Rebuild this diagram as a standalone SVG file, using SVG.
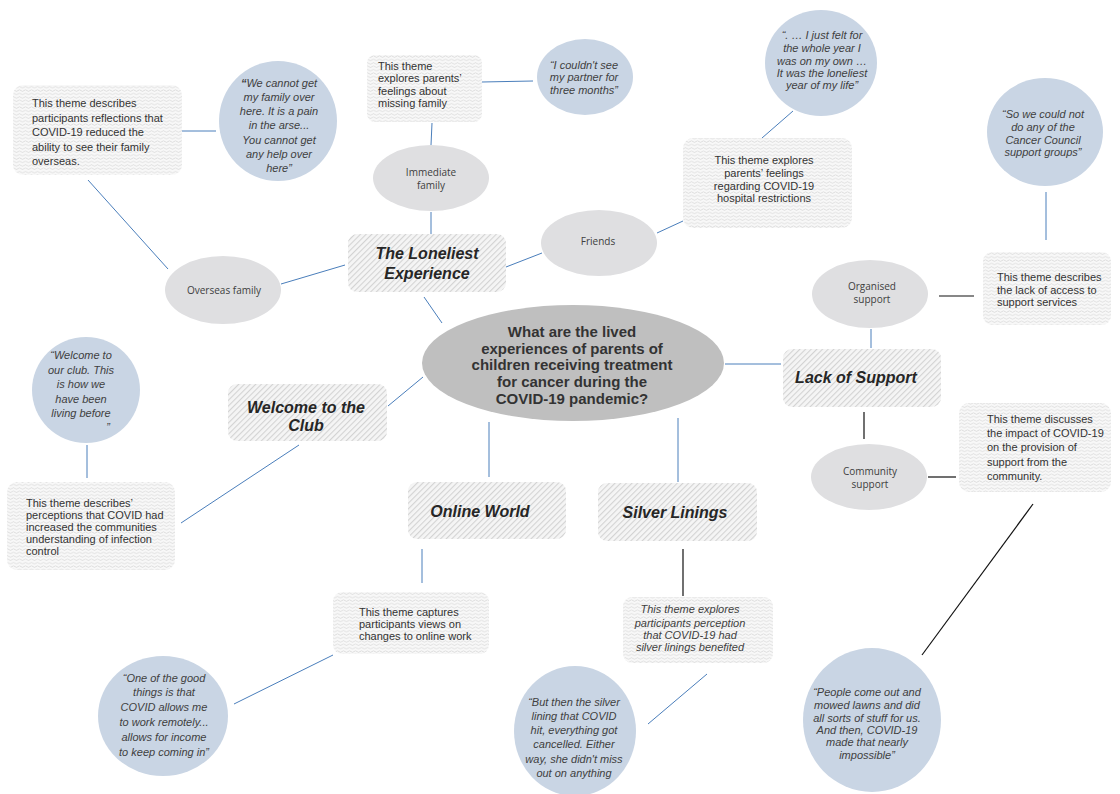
<svg xmlns="http://www.w3.org/2000/svg" width="1120" height="794" viewBox="0 0 1120 794">
<defs>
<pattern id="wavy" width="6" height="3.4" patternUnits="userSpaceOnUse">
<rect width="6" height="3.4" fill="#f8f8f8"/>
<path d="M0 2.2 Q1.5 0.8 3 2.2 T6 2.2" fill="none" stroke="#cdcdcd" stroke-width="0.6"/>
</pattern>
<pattern id="hatch" width="4" height="10" patternUnits="userSpaceOnUse" patternTransform="rotate(45)">
<rect width="4" height="10" fill="#f5f5f5"/>
<line x1="0.6" y1="0" x2="0.6" y2="10" stroke="#d0d0d0" stroke-width="1"/>
</pattern>
<style>
.theme{fill:url(#wavy)}
.title{fill:url(#hatch)}
.quote{fill:#c9d5e4}
.sub{fill:#dfdfe1}
.central{fill:#bfbfbf}
.tt{font-family:"Liberation Sans",Arial,sans-serif;font-size:11px;fill:#333}
.tq{font-family:"Liberation Sans",Arial,sans-serif;font-size:11px;font-style:italic;fill:#404040;text-anchor:middle}
.ts{font-family:"Open Sans","Liberation Sans",sans-serif;font-size:10px;fill:#404040;text-anchor:middle}
.th{font-family:"Liberation Sans",Arial,sans-serif;font-size:16px;font-weight:bold;font-style:italic;fill:#262626;text-anchor:middle}
.tc{font-family:"Liberation Sans",Arial,sans-serif;font-size:15px;font-weight:bold;fill:#333;text-anchor:middle}
.cb{stroke:#4a7ebb;stroke-width:1;fill:none}
.ck{stroke:#111;stroke-width:1.2;fill:none}
</style>
</defs>
<rect width="1120" height="794" fill="#fff"/>

<g id="connectors">
<line class="cb" x1="424" y1="297" x2="442" y2="323"/>
<line class="cb" x1="431" y1="212" x2="431" y2="234"/>
<line class="cb" x1="432" y1="123" x2="431" y2="145"/>
<line class="cb" x1="482" y1="82" x2="533" y2="81"/>
<line class="cb" x1="506" y1="267" x2="542" y2="253"/>
<line class="cb" x1="657" y1="233" x2="683" y2="221"/>
<line class="cb" x1="762" y1="138" x2="793" y2="111"/>
<line class="cb" x1="281" y1="284" x2="345" y2="265"/>
<line class="cb" x1="168" y1="269" x2="88" y2="180"/>
<line class="cb" x1="182" y1="131" x2="216" y2="131"/>
<line class="cb" x1="1046" y1="192" x2="1046" y2="240"/>
<line class="ck" x1="939" y1="296" x2="974" y2="296"/>
<line class="cb" x1="871" y1="329" x2="871" y2="348"/>
<line class="cb" x1="725" y1="364" x2="781" y2="364"/>
<line class="ck" x1="864" y1="412" x2="864" y2="439"/>
<line class="ck" x1="928" y1="477" x2="956" y2="477"/>
<line class="ck" x1="1033" y1="504" x2="922" y2="655"/>
<line class="cb" x1="388" y1="406" x2="423" y2="377"/>
<line class="cb" x1="299" y1="445" x2="181" y2="523"/>
<line class="cb" x1="87" y1="445" x2="87" y2="478"/>
<line class="cb" x1="489" y1="422" x2="489" y2="477"/>
<line class="cb" x1="422" y1="549" x2="422" y2="583"/>
<line class="cb" x1="333" y1="655" x2="234" y2="704"/>
<line class="cb" x1="678" y1="418" x2="678" y2="482"/>
<line class="ck" x1="683" y1="549" x2="683" y2="596"/>
<line class="cb" x1="707" y1="674" x2="648" y2="724"/>
</g>

<g id="central">
<ellipse class="central" cx="573" cy="363" rx="151" ry="58"/>
<text class="tc" x="572" y="337">What are the lived</text>
<text class="tc" x="572" y="354">experiences of parents of</text>
<text class="tc" x="572" y="370">children receiving treatment</text>
<text class="tc" x="572" y="387">for cancer during the</text>
<text class="tc" x="572" y="404">COVID-19 pandemic?</text>
</g>

<g id="loneliest">
<rect class="title" x="348" y="234" width="158" height="58" rx="9"/>
<text class="th" x="427" y="259">The Loneliest</text>
<text class="th" x="427" y="279">Experience</text>
</g>

<g id="immediate-family">
<ellipse class="sub" cx="431" cy="178" rx="58" ry="33"/>
<text class="ts" x="431" y="176">Immediate</text>
<text class="ts" x="431" y="189">family</text>
</g>

<g id="theme-missing-family">
<rect class="theme" x="367" y="55" width="115" height="67" rx="8"/>
<text class="tt" x="378" y="70">This theme</text>
<text class="tt" x="378" y="82">explores parents’</text>
<text class="tt" x="378" y="95">feelings about</text>
<text class="tt" x="378" y="107">missing family</text>
</g>

<g id="quote-partner">
<ellipse class="quote" cx="585" cy="77" rx="48" ry="38"/>
<text class="tq" x="584" y="69">“I couldn't see</text>
<text class="tq" x="584" y="81">my partner for</text>
<text class="tq" x="584" y="94">three months”</text>
</g>

<g id="friends">
<ellipse class="sub" cx="599" cy="243" rx="58" ry="33"/>
<text class="ts" x="598" y="245">Friends</text>
</g>

<g id="theme-hospital">
<rect class="theme" x="683" y="138" width="169" height="90" rx="10"/>
<text class="tt" x="764" y="164" text-anchor="middle">This theme explores</text>
<text class="tt" x="764" y="177" text-anchor="middle">parents’ feelings</text>
<text class="tt" x="764" y="190" text-anchor="middle">regarding COVID-19</text>
<text class="tt" x="764" y="202" text-anchor="middle">hospital restrictions</text>
</g>

<g id="quote-loneliest-year">
<ellipse class="quote" cx="821" cy="63" rx="56" ry="53"/>
<text class="tq" x="822" y="39">“. … I just felt for</text>
<text class="tq" x="822" y="52">the whole year I</text>
<text class="tq" x="822" y="65">was on my own …</text>
<text class="tq" x="822" y="77">It was the loneliest</text>
<text class="tq" x="822" y="89">year of my life”</text>
</g>

<g id="overseas-family">
<ellipse class="sub" cx="223" cy="290" rx="58" ry="34"/>
<text class="ts" x="224" y="294">Overseas family</text>
</g>

<g id="theme-overseas">
<rect class="theme" x="13" y="85" width="169" height="90" rx="10"/>
<text class="tt" x="32" y="107">This theme describes</text>
<text class="tt" x="32" y="122">participants reflections that</text>
<text class="tt" x="32" y="136">COVID-19 reduced the</text>
<text class="tt" x="32" y="151">ability to see their family</text>
<text class="tt" x="32" y="165">overseas.</text>
</g>

<g id="quote-overseas">
<ellipse class="quote" cx="278" cy="121" rx="59" ry="60"/>
<text class="tq" x="279" y="87"><tspan font-weight="bold">“</tspan>We cannot get</text>
<text class="tq" x="279" y="101">my family over</text>
<text class="tq" x="279" y="115">here. It is a pain</text>
<text class="tq" x="279" y="129">in the arse...</text>
<text class="tq" x="279" y="144">You cannot get</text>
<text class="tq" x="279" y="158">any help over</text>
<text class="tq" x="279" y="172">here”</text>
</g>

<g id="lack-of-support">
<rect class="title" x="783" y="349" width="158" height="58" rx="9"/>
<text class="th" x="856" y="383">Lack of Support</text>
</g>

<g id="organised-support">
<ellipse class="sub" cx="870" cy="294" rx="58" ry="34"/>
<text class="ts" x="872" y="290">Organised</text>
<text class="ts" x="872" y="303">support</text>
</g>

<g id="theme-access">
<rect class="theme" x="983" y="252" width="128" height="73" rx="9"/>
<text class="tt" x="997" y="281">This theme describes</text>
<text class="tt" x="997" y="294">the lack of access to</text>
<text class="tt" x="997" y="306">support services</text>
</g>

<g id="quote-cancer-council">
<ellipse class="quote" cx="1045" cy="132" rx="58" ry="54"/>
<text class="tq" x="1043" y="118">“So we could not</text>
<text class="tq" x="1043" y="131">do any of the</text>
<text class="tq" x="1043" y="144">Cancer Council</text>
<text class="tq" x="1043" y="156">support groups”</text>
</g>

<g id="community-support">
<ellipse class="sub" cx="869" cy="477" rx="58" ry="33"/>
<text class="ts" x="870" y="475">Community</text>
<text class="ts" x="870" y="488">support</text>
</g>

<g id="theme-community">
<rect class="theme" x="959" y="403" width="152" height="89" rx="10"/>
<text class="tt" x="987" y="423">This theme discusses</text>
<text class="tt" x="987" y="437">the impact of COVID-19</text>
<text class="tt" x="987" y="451">on the provision of</text>
<text class="tt" x="987" y="466">support from the</text>
<text class="tt" x="987" y="480">community.</text>
</g>

<g id="quote-community">
<ellipse class="quote" cx="872" cy="720" rx="69" ry="72"/>
<text class="tq" x="867" y="696">“People come out and</text>
<text class="tq" x="867" y="709">mowed lawns and did</text>
<text class="tq" x="867" y="722">all sorts of stuff for us.</text>
<text class="tq" x="867" y="734">And then, COVID-19</text>
<text class="tq" x="867" y="746">made that nearly</text>
<text class="tq" x="867" y="759">impossible”</text>
</g>

<g id="welcome">
<rect class="title" x="228" y="384" width="159" height="57" rx="9"/>
<text class="th" x="306" y="413">Welcome to the</text>
<text class="th" x="306" y="431">Club</text>
</g>

<g id="quote-welcome">
<ellipse class="quote" cx="86" cy="390" rx="54" ry="53"/>
<text class="tq" x="81" y="359">“Welcome to</text>
<text class="tq" x="81" y="374">our club. This</text>
<text class="tq" x="81" y="388">is how we</text>
<text class="tq" x="81" y="403">have been</text>
<text class="tq" x="81" y="417">living before</text>
<text class="tq" x="108" y="431">”</text>
</g>

<g id="theme-infection">
<rect class="theme" x="7" y="482" width="168" height="88" rx="10"/>
<text class="tt" x="26" y="507" font-size="10.5">This theme describes’</text>
<text class="tt" x="26" y="519" font-size="10.5">perceptions that COVID had</text>
<text class="tt" x="26" y="531" font-size="10.5">increased the communities</text>
<text class="tt" x="26" y="543" font-size="10.5">understanding of infection</text>
<text class="tt" x="26" y="555" font-size="10.5">control</text>
</g>

<g id="online-world">
<rect class="title" x="408" y="482" width="158" height="57" rx="9"/>
<text class="th" x="480" y="517">Online World</text>
</g>

<g id="theme-online">
<rect class="theme" x="333" y="592" width="156" height="62" rx="9"/>
<text class="tt" x="359" y="616">This theme captures</text>
<text class="tt" x="359" y="628">participants views on</text>
<text class="tt" x="359" y="640">changes to online work</text>
</g>

<g id="quote-online">
<ellipse class="quote" cx="163" cy="716" rx="65" ry="60"/>
<text class="tq" x="164" y="682">“One of the good</text>
<text class="tq" x="164" y="696">things is that</text>
<text class="tq" x="164" y="711">COVID allows me</text>
<text class="tq" x="164" y="726">to work remotely...</text>
<text class="tq" x="164" y="741">allows for income</text>
<text class="tq" x="164" y="756">to keep coming in”</text>
</g>

<g id="silver-linings">
<rect class="title" x="598" y="483" width="159" height="58" rx="9"/>
<text class="th" x="675" y="518">Silver Linings</text>
</g>

<g id="theme-silver">
<rect class="theme" x="623" y="597" width="150" height="66" rx="9"/>
<text class="tq" x="690" y="613">This theme explores</text>
<text class="tq" x="690" y="627">participants perception</text>
<text class="tq" x="690" y="639">that COVID-19 had</text>
<text class="tq" x="690" y="651">silver linings benefited</text>
</g>

<g id="quote-silver">
<ellipse class="quote" cx="575" cy="731" rx="61" ry="65"/>
<text class="tq" x="574" y="706">“But then the silver</text>
<text class="tq" x="574" y="720">lining that COVID</text>
<text class="tq" x="574" y="734">hit, everything got</text>
<text class="tq" x="574" y="748">cancelled. Either</text>
<text class="tq" x="574" y="763">way, she didn't miss</text>
<text class="tq" x="574" y="777">out on anything</text>
</g>
</svg>
